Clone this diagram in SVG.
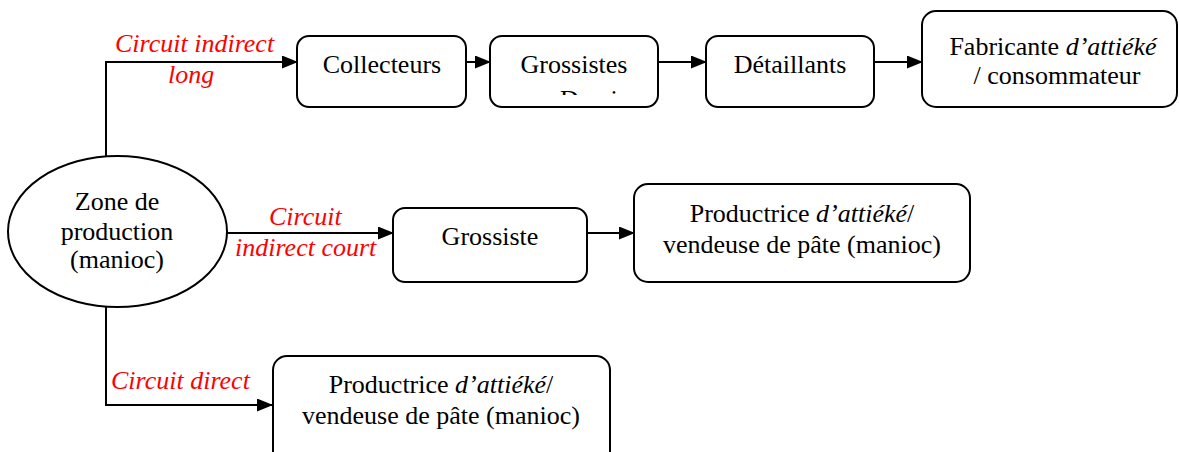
<svg xmlns="http://www.w3.org/2000/svg" width="1179" height="452" viewBox="0 0 1179 452">
  <style>
    .box { fill: #fff; stroke: #000; stroke-width: 2; }
    .t { font-family: "Liberation Serif", "Times New Roman", "DejaVu Serif", serif; font-size: 26px; fill: #000; }
    .lbl { font-family: "Liberation Serif", "Times New Roman", "DejaVu Serif", serif; font-size: 26px; font-style: italic; fill: #ff0000; }
    .i { font-style: italic; }
    .line { fill: none; stroke: #000; stroke-width: 2; }
  </style>
  <defs>
    <marker id="arr" markerUnits="userSpaceOnUse" markerWidth="16" markerHeight="13" refX="15" refY="6.5" orient="auto">
      <path d="M0,0 L16,6.5 L0,13 z" fill="#000"/>
    </marker>
    <clipPath id="clipG">
      <rect x="490" y="36" width="168" height="59"/>
    </clipPath>
  </defs>
  <rect width="1179" height="452" fill="#fff"/>

  <g id="connectors">
    <polyline class="line" points="106,156 106,62 297,62" marker-end="url(#arr)"/>
    <line class="line" x1="466" y1="62" x2="490" y2="62" marker-end="url(#arr)"/>
    <line class="line" x1="658" y1="62" x2="706" y2="62" marker-end="url(#arr)"/>
    <line class="line" x1="874" y1="62" x2="922" y2="62" marker-end="url(#arr)"/>
    <line class="line" x1="227" y1="233" x2="393" y2="233" marker-end="url(#arr)"/>
    <line class="line" x1="587" y1="233" x2="634" y2="233" marker-end="url(#arr)"/>
    <polyline class="line" points="106,307 106,405 272,405" marker-end="url(#arr)"/>
    <text class="lbl" x="115" y="52">Circuit indirect</text>
    <text class="lbl" x="168" y="83">long</text>
    <text class="lbl" x="269" y="225">Circuit</text>
    <text class="lbl" x="235" y="256">indirect court</text>
    <text class="lbl" x="111" y="389">Circuit direct</text>
  </g>

  <g id="zone">
    <ellipse cx="117.5" cy="231.5" rx="109.5" ry="75.5" fill="#fff" stroke="#000" stroke-width="2"/>
    <text class="t" x="117" y="210" text-anchor="middle">Zone de</text>
    <text class="t" x="117" y="240" text-anchor="middle">production</text>
    <text class="t" x="117" y="268" text-anchor="middle">(manioc)</text>
  </g>

  <g id="collecteurs">
    <rect class="box" x="297" y="36" width="169" height="71" rx="12"/>
    <text class="t" x="382" y="73" text-anchor="middle">Collecteurs</text>
  </g>

  <g id="grossistes">
    <rect class="box" x="490" y="36" width="168" height="71" rx="12"/>
    <text class="t" x="574" y="73" text-anchor="middle">Grossistes</text>
    <text class="t" x="560" y="108" clip-path="url(#clipG)">Demi</text>
  </g>

  <g id="detaillants">
    <rect class="box" x="706" y="36" width="168" height="71" rx="12"/>
    <text class="t" x="790" y="73" text-anchor="middle">Détaillants</text>
  </g>

  <g id="fabricante">
    <rect class="box" x="922" y="11" width="255" height="96" rx="14"/>
    <text class="t" x="1053" y="55" text-anchor="middle">Fabricante <tspan class="i">d’attiéké</tspan></text>
    <text class="t" x="1057" y="84" text-anchor="middle">/ consommateur</text>
  </g>

  <g id="grossiste">
    <rect class="box" x="393" y="208" width="194" height="74" rx="12"/>
    <text class="t" x="490" y="245" text-anchor="middle">Grossiste</text>
  </g>

  <g id="productrice-court">
    <rect class="box" x="634" y="184" width="336" height="98" rx="14"/>
    <text class="t" x="802" y="222" text-anchor="middle">Productrice <tspan class="i">d’attiéké</tspan>/</text>
    <text class="t" x="802" y="253" text-anchor="middle">vendeuse de pâte (manioc)</text>
  </g>

  <g id="productrice-direct">
    <rect class="box" x="273" y="356" width="337" height="110" rx="14"/>
    <text class="t" x="441" y="393" text-anchor="middle">Productrice <tspan class="i">d’attiéké</tspan>/</text>
    <text class="t" x="441" y="424" text-anchor="middle">vendeuse de pâte (manioc)</text>
  </g>
</svg>
